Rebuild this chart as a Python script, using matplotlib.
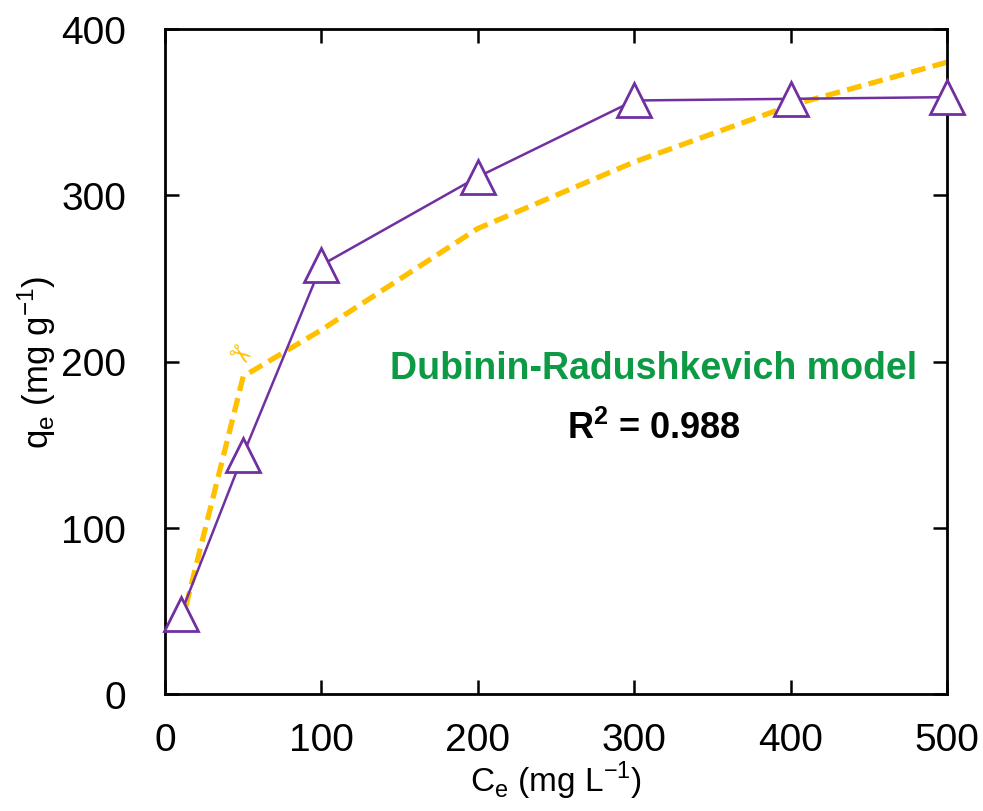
import matplotlib
matplotlib.use("Agg")
import matplotlib.pyplot as plt

# experimental data
ce_exp = [10, 50, 100, 200, 300, 400, 500]
qe_exp = [48, 144, 258, 311, 357, 358, 359]

# Dubinin-Radushkevich fit
ce_fit = [10, 50, 100, 200, 300, 400, 500]
qe_fit = [40, 191, 219, 280, 320, 354, 380]

xticks = [0, 100, 200, 300, 400, 500]
yticks = [0, 100, 200, 300, 400]

plt.rcParams["font.family"] = ["Liberation Sans", "DejaVu Sans"]

fig = plt.figure(figsize=(9.83, 8.12), dpi=100)
ax = fig.add_axes([165 / 983, 1 - 695 / 812, (947 - 165) / 983, (695 - 30) / 812])

ax.plot(ce_fit, qe_fit, "--", color="#ffc000", lw=3.8, dashes=(2.8, 1.4), zorder=2)
ax.plot(ce_exp, qe_exp, "-", color="#7030a0", lw=1.8, marker="^", markersize=25,
        markerfacecolor="white", markeredgecolor="#7030a0", markeredgewidth=2,
        clip_on=False, zorder=3)

ax.text(47, 193, "\u2702", color="#ffc000", fontsize=20, family="DejaVu Sans",
        ha="center", va="bottom", rotation=-35, zorder=2)

ax.set_xlim(0, 500)
ax.set_ylim(0, 400)
ax.set_xticks(xticks)
ax.set_yticks(yticks)
ax.tick_params(direction="in", top=True, right=True, length=10, width=1.8,
               labelsize=28)
ax.tick_params(axis="x", pad=20)
ax.tick_params(axis="y", pad=28)
for s in ax.spines.values():
    s.set_linewidth(2)

ax.set_xlabel(r"C$_\mathregular{e}$ (mg L$^\mathregular{-1}$)", fontsize=24, labelpad=1)
ax.set_ylabel(r"q$_\mathregular{e}$ (mg g$^\mathregular{-1}$)", fontsize=25, labelpad=2)

ax.text(0.625, 0.49, "Dubinin-Radushkevich model", transform=ax.transAxes,
        color="#0d9a45", fontsize=27, fontweight="bold", ha="center", va="center")
ax.text(0.625, 0.40, r"R$^\mathregular{2}$ = 0.988", transform=ax.transAxes,
        color="black", fontsize=26, fontweight="bold", ha="center", va="center")

fig.savefig("out.png", dpi=100)
